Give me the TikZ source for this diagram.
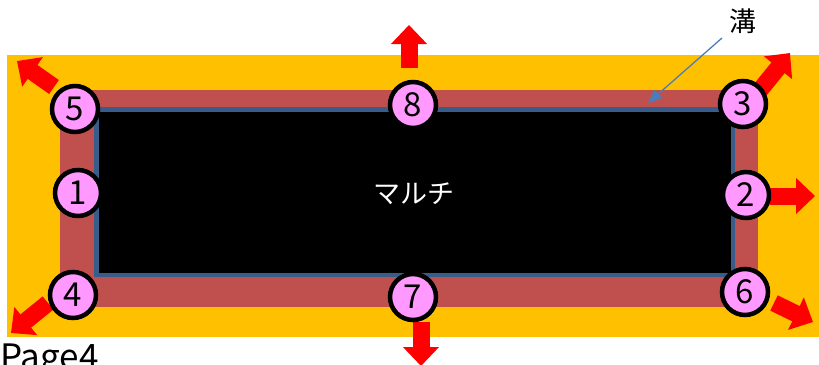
\documentclass[tikz,border=0pt]{standalone}
\usepackage{fontspec}
\setmainfont{Noto Sans CJK JP}
\newfontfamily\jpfont{Noto Sans CJK JP}
\usetikzlibrary{arrows.meta}
\definecolor{orangebg}{HTML}{FFC000}
\definecolor{redband}{HTML}{C0504D}
\definecolor{blueedge}{HTML}{385D8A}
\definecolor{pinkfill}{HTML}{FF99FF}
\definecolor{bluearrow}{HTML}{4A7EBB}
\tikzset{
  x=1pt, y=-1pt,
  numcircle/.style={circle, draw=black, line width=4.5pt, fill=pinkfill,
    minimum size=46pt, inner sep=0pt, font=\jpfont\fontsize{33}{33}\selectfont},
  redarrow/.style={draw=red, line width=17pt,
    -{Triangle[width=35pt,length=19pt]}},
  blueline/.style={draw=bluearrow, line width=1.3pt,
    -{Triangle[width=11pt,length=14pt]}},
}
\begin{document}
\begin{tikzpicture}
\useasboundingbox (0,0) rectangle (819,364);
\begin{scope}
\clip (0,0) rectangle (819,364);
% backgrounds
\fill[orangebg] (7,55) rectangle (819,337);
\fill[redband] (60,90) rectangle (758,307);
\filldraw[fill=black, draw=blueedge, line width=4.5pt] (96.25,109.25) rectangle (732.75,274.75);
% center label
\node[text=white, font=\jpfont\fontsize{27}{27}\selectfont] (multi) at (414,194) {マルチ};
% red block arrows
\coordinate (b8) at (409,68);  \coordinate (t8) at (409,25);
\coordinate (b7) at (421,322); \coordinate (t7) at (421,366);
\coordinate (b2) at (770,196); \coordinate (t2) at (815,196);
\coordinate (b5) at (54,87);   \coordinate (t5) at (17,61);
\coordinate (b3) at (760,90);  \coordinate (t3) at (790,53);
\coordinate (b4) at (48,303);  \coordinate (t4) at (11,333);
\coordinate (b6) at (774,303); \coordinate (t6) at (813,322);
\foreach \n in {8,7,2,5,3,4,6} { \draw[redarrow] (b\n) -- (t\n); }
% numbered circles
\node[numcircle] (c5) at (75,109) {5};
\node[numcircle] (c8) at (413,105) {8};
\node[numcircle] (c3) at (743,104) {3};
\node[numcircle] (c1) at (78,193) {1};
\node[numcircle] (c2) at (746,195) {2};
\node[numcircle] (c4) at (73,295) {4};
\node[numcircle] (c7) at (413,297) {7};
\node[numcircle] (c6) at (745,292) {6};
% groove label
\node[font=\jpfont\fontsize{27}{27}\selectfont] (mizo) at (743,21) {溝};
\coordinate (groove) at (648,103);
\draw[blueline] (722,38) -- (groove);
% page label
\node[anchor=base west, inner sep=0pt, font=\jpfont\fontsize{35}{35}\selectfont] (page) at (0,369) {Page4};
\end{scope}
\end{tikzpicture}
\end{document}
